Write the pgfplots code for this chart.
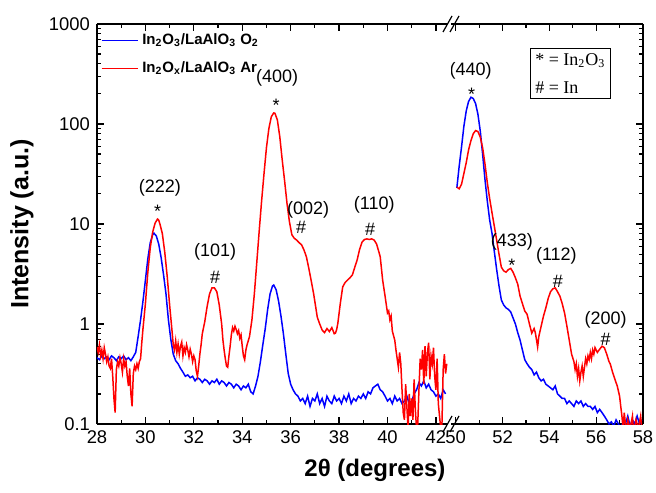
\documentclass[border=0pt]{standalone}
\usepackage{fontspec}
\setmainfont{Liberation Sans}
\newfontfamily\tnr{Liberation Serif}
\usepackage{pgfplots}
\pgfplotsset{compat=1.18}

\pgfplotstableread{
x y
28.0 0.46
28.1 0.44
28.2 0.48
28.3 0.45
28.4 0.47
28.5 0.44
28.6 0.48
28.7 0.46
28.8 0.43
28.9 0.47
29.0 0.45
29.1 0.48
29.2 0.44
29.3 0.46
29.4 0.43
29.5 0.47
29.6 0.52
29.7 0.75
29.8 1.1
29.9 1.7
30.0 2.75
30.1 4.5
30.2 6.5
30.3 7.8
30.35 8.1
30.45 7.6
30.55 6.3
30.65 4.6
30.75 3.1
30.85 2.0
30.95 1.1
31.05 0.7
31.15 0.5
31.25 0.43
31.35 0.40
31.45 0.36
31.55 0.33
31.65 0.30
31.75 0.31
31.85 0.29
31.95 0.30
32.05 0.27
32.15 0.29
32.25 0.28
32.35 0.26
32.45 0.28
32.55 0.27
32.65 0.25
32.75 0.27
32.85 0.26
32.95 0.28
33.05 0.25
33.15 0.27
33.25 0.26
33.35 0.24
33.45 0.26
33.55 0.25
33.65 0.23
33.75 0.25
33.85 0.24
33.95 0.22
34.05 0.24
34.15 0.23
34.25 0.25
34.35 0.21
34.45 0.20
34.55 0.24
34.65 0.30
34.75 0.42
34.85 0.62
34.95 0.9
35.05 1.4
35.15 2.0
35.25 2.4
35.3 2.45
35.4 2.2
35.5 1.7
35.6 1.2
35.7 0.8
35.8 0.5
35.9 0.32
36.0 0.25
36.1 0.22
36.2 0.20
36.3 0.19
36.4 0.17
36.5 0.18
36.6 0.16
36.7 0.19
36.8 0.15
36.9 0.18
37.0 0.17
37.1 0.20
37.2 0.16
37.3 0.18
37.4 0.15
37.5 0.19
37.6 0.17
37.7 0.16
37.8 0.19
37.9 0.17
38.0 0.18
38.1 0.16
38.2 0.19
38.3 0.17
38.4 0.20
38.5 0.16
38.6 0.18
38.7 0.17
38.8 0.19
38.9 0.18
39.0 0.20
39.1 0.18
39.2 0.21
39.3 0.20
39.4 0.23
39.5 0.24
39.6 0.25
39.7 0.22
39.8 0.21
39.9 0.19
40.0 0.17
40.1 0.18
40.2 0.16
40.3 0.19
40.4 0.17
40.5 0.18
40.6 0.16
40.7 0.17
40.8 0.19
40.9 0.16
41.0 0.17
41.1 0.20
41.2 0.22
41.3 0.26
41.4 0.24
41.5 0.27
41.6 0.23
41.7 0.25
41.8 0.22
41.9 0.21
42.0 0.19
42.1 0.20
42.2 0.18
42.3 0.22
42.4 0.20
}\blueleft

\pgfplotstableread{
x y
28.0 0.59
28.05 0.52
28.1 0.62
28.15 0.48
28.2 0.55
28.25 0.45
28.3 0.58
28.35 0.50
28.4 0.42
28.45 0.47
28.5 0.38
28.55 0.36
28.6 0.45
28.65 0.30
28.7 0.18
28.75 0.13
28.8 0.35
28.85 0.42
28.9 0.38
28.95 0.46
29.0 0.40
29.05 0.33
29.1 0.45
29.15 0.38
29.2 0.42
29.25 0.30
29.3 0.24
29.35 0.36
29.4 0.20
29.45 0.15
29.5 0.32
29.55 0.38
29.6 0.35
29.65 0.40
29.7 0.36
29.75 0.42
29.8 0.45
29.85 0.65
29.9 0.9
30.0 1.6
30.05 2.3
30.1 3.3
30.2 5.8
30.3 8.3
30.4 10.2
30.5 11.2
30.55 10.9
30.6 10.0
30.7 8.0
30.8 5.2
30.9 3.0
31.0 1.55
31.1 0.85
31.15 0.62
31.2 0.55
31.25 0.68
31.3 0.52
31.35 0.63
31.4 0.50
31.45 0.60
31.5 0.66
31.55 0.48
31.6 0.58
31.65 0.52
31.7 0.62
31.75 0.55
31.8 0.47
31.85 0.56
31.9 0.50
31.95 0.42
32.0 0.48
32.05 0.44
32.1 0.34
32.15 0.30
32.2 0.38
32.25 0.50
32.3 0.62
32.35 0.8
32.45 1.05
32.55 1.5
32.65 2.0
32.75 2.3
32.85 2.3
32.95 2.1
33.05 1.55
33.15 1.0
33.2 0.7
33.25 0.55
33.3 0.45
33.35 0.38
33.4 0.37
33.45 0.48
33.5 0.60
33.55 0.78
33.6 0.92
33.65 0.85
33.7 0.95
33.75 0.88
33.8 0.80
33.85 0.86
33.9 0.72
33.95 0.78
34.0 0.60
34.05 0.48
34.1 0.44
34.15 0.55
34.2 0.62
34.3 0.75
34.4 1.1
34.5 2.0
34.6 4.1
34.7 8.5
34.8 17
34.9 32
35.0 58
35.1 90
35.2 118
35.3 129
35.35 128
35.45 110
35.55 75
35.65 44
35.75 27
35.85 16
35.95 10.5
36.05 7.8
36.15 7.2
36.25 6.9
36.35 6.5
36.45 6.2
36.55 5.5
36.65 4.7
36.75 3.6
36.85 2.7
36.95 2.0
37.05 1.4
37.1 1.17
37.2 1.0
37.3 0.87
37.4 0.82
37.5 0.90
37.6 0.84
37.7 0.92
37.8 0.80
37.85 0.81
37.9 0.88
37.95 1.02
38.05 1.6
38.15 2.35
38.25 2.6
38.35 2.75
38.45 2.9
38.55 3.1
38.65 3.7
38.75 4.4
38.85 5.6
38.95 6.6
39.05 7.0
39.15 7.1
39.25 7.0
39.35 7.1
39.45 6.9
39.55 6.3
39.65 5.2
39.7 4.7
39.8 2.75
39.9 1.9
40.0 1.29
40.05 1.35
40.1 1.1
40.15 1.2
40.2 0.85
40.3 0.69
40.35 0.55
40.4 0.45
40.45 0.37
40.5 0.52
40.55 0.40
40.6 0.22
40.65 0.13
40.7 0.11
40.75 0.25
40.8 0.15
40.85 0.09
40.9 0.20
40.95 0.12
41.0 0.18
41.05 0.11
41.1 0.28
41.15 0.14
41.2 0.09
41.25 0.10
41.3 0.22
41.35 0.45
41.4 0.35
41.45 0.55
41.5 0.25
41.55 0.60
41.6 0.30
41.65 0.52
41.7 0.65
41.75 0.28
41.8 0.48
41.85 0.40
41.9 0.58
41.95 0.30
42.0 0.22
42.05 0.45
42.1 0.16
42.15 0.12
42.2 0.09
42.25 0.10
42.3 0.35
42.35 0.50
42.4 0.32
42.45 0.40
}\redleft

\pgfplotstableread{
x y
50.05 23
50.15 38
50.25 59
50.35 95
50.45 135
50.55 168
50.65 185
50.75 180
50.85 160
50.95 125
51.05 85
51.15 50
51.25 28
51.35 17
51.45 11
51.55 8.1
51.65 5.3
51.75 3.5
51.85 2.4
51.95 1.74
52.05 1.55
52.15 1.45
52.25 1.40
52.35 1.32
52.45 1.15
52.55 1.0
52.65 0.82
52.75 0.69
52.85 0.55
52.95 0.44
53.05 0.40
53.15 0.37
53.25 0.35
53.35 0.31
53.45 0.33
53.55 0.29
53.65 0.27
53.75 0.28
53.85 0.25
53.95 0.24
54.05 0.23
54.15 0.22
54.25 0.24
54.35 0.20
54.45 0.19
54.55 0.18
54.65 0.18
54.75 0.16
54.85 0.17
54.95 0.16
55.05 0.15
55.15 0.17
55.25 0.16
55.35 0.17
55.45 0.15
55.55 0.16
55.65 0.15
55.75 0.15
55.85 0.14
55.95 0.15
56.05 0.13
56.15 0.14
56.25 0.13
56.35 0.12
56.45 0.11
56.55 0.10
56.65 0.105
56.75 0.095
56.85 0.11
56.95 0.10
57.05 0.09
57.15 0.105
57.25 0.10
57.35 0.12
57.45 0.095
57.55 0.11
57.65 0.10
57.75 0.12
57.85 0.10
57.95 0.11
}\blueright

\pgfplotstableread{
x y
50.05 23.4
50.15 22.5
50.25 25
50.35 32
50.45 41
50.55 55
50.65 68
50.75 80
50.85 86
50.95 84
51.05 74
51.15 58
51.25 40
51.35 26
51.45 18
51.55 13
51.65 9.5
51.75 6.9
51.85 5.0
51.95 3.7
52.05 3.4
52.15 3.3
52.25 3.5
52.35 3.6
52.45 3.3
52.55 2.9
52.65 2.5
52.75 1.9
52.85 1.6
52.95 1.35
53.05 1.25
53.15 1.0
53.25 0.81
53.35 0.90
53.4 0.82
53.45 0.70
53.5 0.59
53.55 0.75
53.65 0.95
53.75 1.2
53.85 1.45
53.95 1.8
54.05 2.1
54.15 2.25
54.25 2.3
54.35 2.1
54.45 1.9
54.55 1.6
54.65 1.29
54.75 0.95
54.85 0.69
54.95 0.5
55.05 0.42
55.1 0.35
55.15 0.40
55.2 0.30
55.25 0.36
55.3 0.27
55.35 0.33
55.4 0.38
55.45 0.30
55.5 0.37
55.55 0.45
55.6 0.40
55.65 0.48
55.7 0.44
55.75 0.52
55.8 0.45
55.85 0.55
55.9 0.50
55.95 0.58
56.05 0.52
56.15 0.56
56.25 0.60
56.35 0.58
56.45 0.50
56.55 0.42
56.6 0.40
56.7 0.33
56.8 0.28
56.9 0.24
57.0 0.19
57.05 0.15
57.1 0.12
57.15 0.09
57.2 0.13
57.25 0.10
57.3 0.08
57.35 0.11
57.45 0.09
57.55 0.12
57.6 0.08
57.7 0.11
57.8 0.09
57.9 0.12
57.95 0.09
}\redright

\tikzset{annot/.style={font=\fontsize{9}{10}\selectfont, inner sep=0pt}}

\begin{document}
\begin{tikzpicture}
\useasboundingbox (-48.5pt,-34pt) rectangle (279.5pt,212pt);

\begin{axis}[at={(0pt,0pt)}, anchor=south west,
    scale only axis, width=175.5pt, height=200pt,
    ymode=log, ymin=0.1, ymax=1000,
    ytick={0.1,1,10,100,1000},
    yticklabels={0.1,1,10,100,1000},
    xmin=28, xmax=42.5, xtick={28,30,...,42},
    minor x tick num=1,
    axis x line*=box, axis y line*=left,
    tick align=inside,
    major tick length=3.5pt, minor tick length=2pt,
    axis line style={line width=0.9pt},
    every tick/.style={black, line width=0.6pt},
    tick label style={font=\fontsize{9.2}{11}\selectfont},
    /pgf/number format/assume math mode=true,
    ylabel={\bfseries Intensity (a.u.)},
    ylabel style={at={(axis description cs:-0.214,0.5)}, anchor=center, font=\fontsize{12.5}{14}\selectfont},
    xlabel={\bfseries 2θ (degrees)},
    xlabel style={at={(axis description cs:0.792,-0.115)}, anchor=center, font=\fontsize{12}{14}\selectfont},
    legend style={at={(rel axis cs:0.004,0.992)}, anchor=north west, draw=none, fill=none,
        font=\bfseries\fontsize{7.5}{9}\selectfont, row sep=3pt, inner sep=1pt,
        nodes={inner xsep=2pt}},
    legend cell align=left,
    legend image code/.code={\draw[#1] (0pt,0pt) -- (18pt,0pt);},
]
\addplot[blue, line width=0.75pt] table {\blueleft};
\addlegendentry{In\textsubscript{2}O\textsubscript{3}/LaAlO\textsubscript{3} O\textsubscript{2}}
\addplot[red, line width=0.75pt] table {\redleft};
\addlegendentry{In\textsubscript{2}O\textsubscript{x}/LaAlO\textsubscript{3} Ar}

\node[annot] at (axis cs:30.6,22.9) {(222)};
\node[annot] at (axis cs:30.5,13.5) {*};
\node[annot] at (axis cs:32.88,5.25) {(101)};
\node[annot] at (axis cs:32.88,2.95) {\#};
\node[annot] at (axis cs:35.44,288) {(400)};
\node[annot] at (axis cs:35.4,155) {*};
\node[annot] at (axis cs:36.72,13.8) {(002)};
\node[annot] at (axis cs:36.43,9.3) {\#};
\node[annot] at (axis cs:39.45,15.5) {(110)};
\node[annot] at (axis cs:39.28,8.9) {\#};
\end{axis}

\begin{axis}[at={(177pt,0pt)}, anchor=south west,
    scale only axis, width=96pt, height=200pt,
    ymode=log, ymin=0.1, ymax=1000,
    ytick={0.1,1,10,100,1000},
    yticklabel=\empty,
    xmin=49.8, xmax=58, xtick={50,52,...,58},
    minor x tick num=1,
    axis x line*=box, axis y line*=right,
    tick align=inside,
    major tick length=3.5pt, minor tick length=2pt,
    axis line style={line width=0.9pt},
    every tick/.style={black, line width=0.6pt},
    tick label style={font=\fontsize{9.2}{11}\selectfont},
    /pgf/number format/assume math mode=true,
]
\addplot[blue, line width=0.75pt] table {\blueright};
\addplot[red, line width=0.75pt] table {\redright};

\node[annot] at (axis cs:50.64,339) {(440)};
\node[annot] at (axis cs:50.68,200) {*};
\node[annot] at (axis cs:52.4,6.6) {(433)};
\node[annot] at (axis cs:52.4,3.9) {*};
\node[annot] at (axis cs:54.3,4.8) {(112)};
\node[annot] at (axis cs:54.36,2.7) {\#};
\node[annot] at (axis cs:56.4,1.1) {(200)};
\node[annot] at (axis cs:56.4,0.71) {\#};

\node[draw, line width=0.6pt, anchor=north west, align=left, inner sep=2.5pt,
      font=\tnr\fontsize{9}{14}\selectfont]
  at (rel axis cs:0.41,0.94) {* = In\textsubscript{2}O\textsubscript{3}\\\# = In};
\end{axis}

\foreach \yy in {0pt,200pt} {
  \draw[line width=0.6pt] (173pt,\yy-4pt) -- (177.5pt,\yy+4pt);
  \draw[line width=0.6pt] (176.5pt,\yy-4pt) -- (181pt,\yy+4pt);
}
\end{tikzpicture}
\end{document}
